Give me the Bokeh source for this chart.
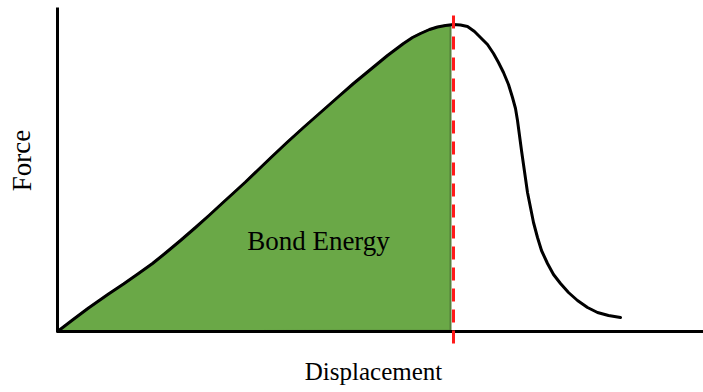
from bokeh.plotting import figure
from bokeh.models import Range1d
from bokeh.core.properties import value
from bokeh.embed import file_html
from bokeh.resources import INLINE

# Force–displacement curve (arbitrary units)
displacement = [0.00, 0.15, 0.31, 0.51, 0.66, 0.81, 0.95, 1.08, 1.23, 1.38, 1.52, 1.65,
                1.76, 1.88, 2.00, 2.13, 2.30, 2.46, 2.63, 2.80, 2.96, 3.13, 3.30,
                3.46, 3.55, 3.63, 3.72, 3.80, 3.88, 3.96,
                4.03, 4.10, 4.17, 4.23, 4.30, 4.36, 4.41, 4.46, 4.51, 4.55, 4.58,
                4.60, 4.62, 4.64, 4.66, 4.68, 4.70, 4.73, 4.76, 4.80, 4.84, 4.90,
                4.96, 5.03, 5.11, 5.20, 5.30, 5.40, 5.51, 5.63]
force = [0.00, 0.115, 0.235, 0.375, 0.475, 0.58, 0.68, 0.785, 0.91, 1.04, 1.165, 1.285,
         1.385, 1.495, 1.61, 1.735, 1.895, 2.04, 2.19, 2.34, 2.48, 2.62, 2.76,
         2.88, 2.94, 2.98, 3.02, 3.045, 3.06, 3.07,
         3.065, 3.05, 3.00, 2.94, 2.87, 2.78, 2.69, 2.59, 2.47, 2.34, 2.23,
         2.11, 1.96, 1.81, 1.67, 1.53, 1.39, 1.24, 1.09, 0.94, 0.81, 0.68,
         0.57, 0.48, 0.39, 0.31, 0.24, 0.19, 0.16, 0.14]

# Bond energy region ends at the maximum-force displacement
fill_end = 3.93
fill_top = 3.05
peak_x = 3.96

x_label = "Displacement"
y_label = "Force"
area_label = "Bond Energy"

X0, X1 = -0.57, 6.46
Y0, Y1 = -0.61, 3.31
AXIS_TOP = 3.24

p = figure(width=703, height=392, output_backend="svg", toolbar_location=None,
           x_range=Range1d(X0, X1), y_range=Range1d(Y0, Y1), min_border=0)
p.axis.visible = False
p.grid.visible = False
p.outline_line_color = None
p.background_fill_color = "white"
p.border_fill_color = "white"

# filled area under the curve up to the peak
fx = [x for x in displacement if x < fill_end] + [fill_end, fill_end]
fy = [y for x, y in zip(displacement, force) if x < fill_end] + [fill_top, 0.01]
p.patch(fx, fy, fill_color="#6aa847", line_color="#55803a", line_width=2)

# axes lines
p.line([0, 0], [0, AXIS_TOP], line_color="black", line_width=3)
p.line([0, X1], [0, 0], line_color="black", line_width=3)

# the curve
p.line(displacement, force, line_color="black", line_width=3, line_join="round",
       line_cap="round")

# dashed marker at peak force
p.line([peak_x, peak_x], [-0.12, 3.18], line_color="#ff1a1a", line_width=3,
       line_dash="13 8")

font = value("Liberation Serif")
p.text(x=[3.16], y=[-0.40], text=[x_label], text_font=font, text_font_size="25px",
       text_align="center", text_baseline="alphabetic", text_color="black")
p.text(x=[-0.36], y=[1.71], text=[y_label], text_font=font, text_font_size="27px",
       text_align="center", text_baseline="alphabetic", angle=1.5708, text_color="black")
p.text(x=[2.61], y=[0.91], text=[area_label], text_font=font, text_font_size="27px",
       text_align="center", text_baseline="alphabetic", text_color="black")

open("out.html", "w").write(file_html(p, INLINE))
